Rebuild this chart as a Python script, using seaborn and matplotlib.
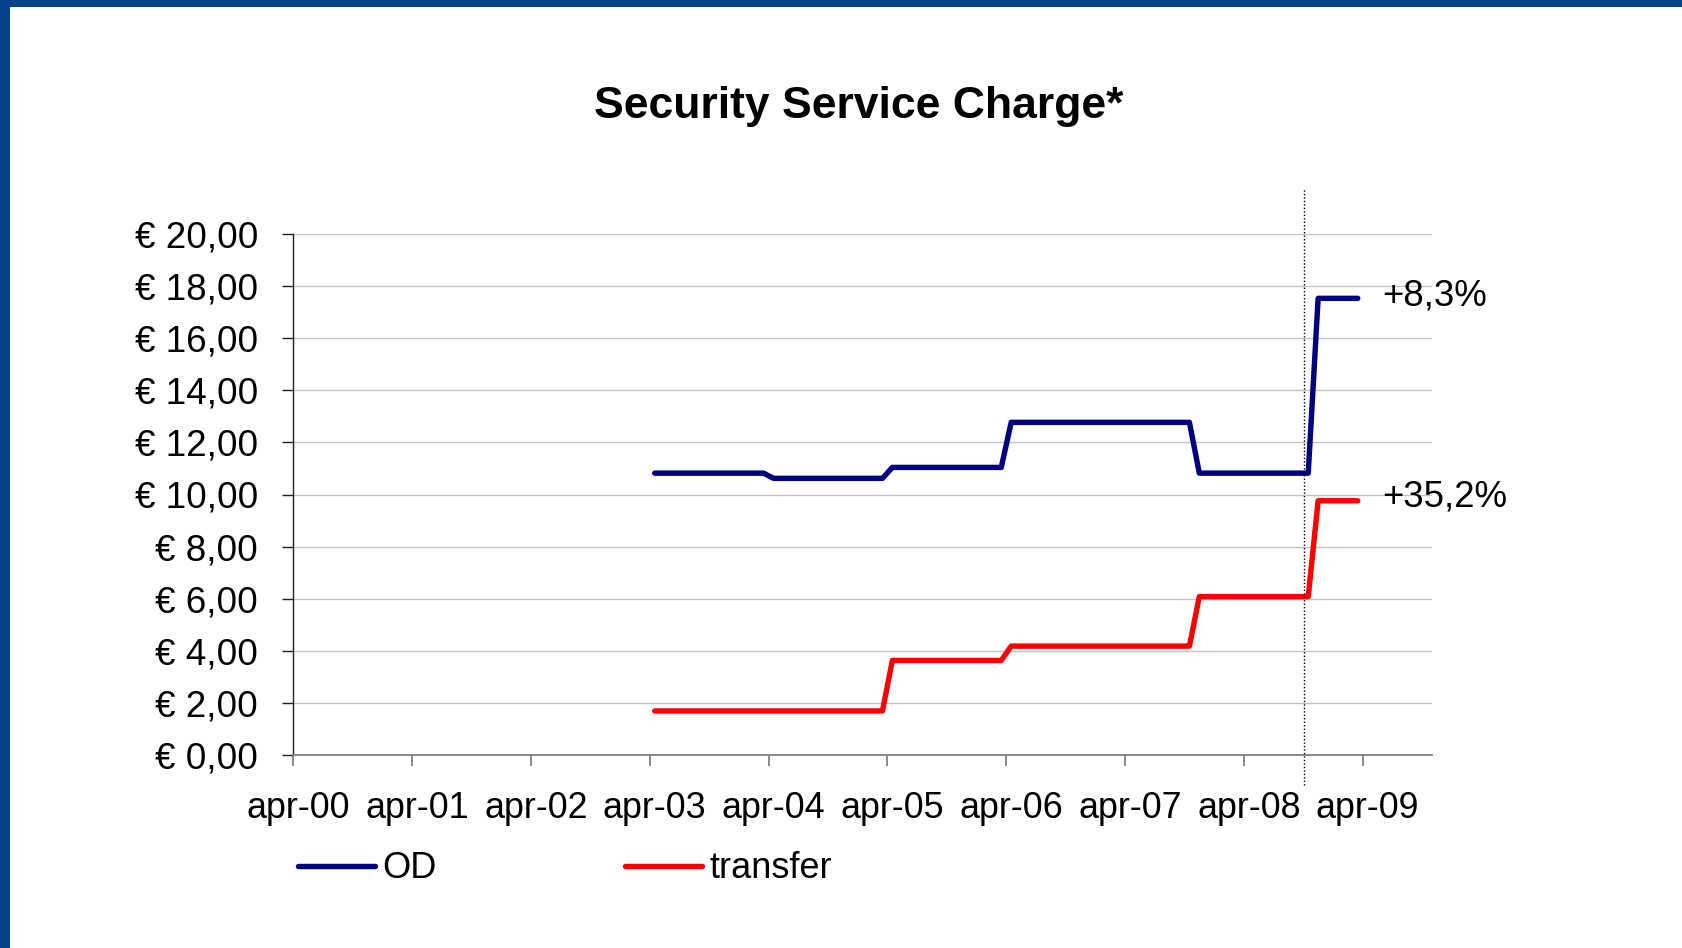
import numpy as np
import pandas as pd
import matplotlib
matplotlib.use("Agg")
import matplotlib.pyplot as plt
from matplotlib.patches import Rectangle
from matplotlib.ticker import FuncFormatter, FixedLocator
import seaborn as sns

# ---------------- data ----------------
start_month = "2000-04"
od_months = ["2003-04", "2004-03", "2004-04", "2005-03", "2005-04", "2006-03",
             "2006-04", "2007-10", "2007-11", "2008-10", "2008-11", "2009-03"]
od_values = [10.82, 10.82, 10.62, 10.62, 11.04, 11.04,
             12.77, 12.77, 10.82, 10.82, 17.53, 17.53]
tr_months = ["2003-04", "2005-03", "2005-04", "2006-03", "2006-04",
             "2007-10", "2007-11", "2008-10", "2008-11", "2009-03"]
tr_values = [1.69, 1.69, 3.63, 3.63, 4.18, 4.18, 6.08, 6.08, 9.76, 9.76]
x_tick_labels = ["apr-00", "apr-01", "apr-02", "apr-03", "apr-04",
                 "apr-05", "apr-06", "apr-07", "apr-08", "apr-09"]
series_names = ["OD", "transfer"]
annotations = ["+8,3%", "+35,2%"]
n_months = 115          # apr-00 .. oct-09 on the category axis
marker_month = 101.55   # dotted vertical line position (months from apr-00)


def month_index(m):
    return (pd.Period(m, "M") - pd.Period(start_month, "M")).n


df = pd.concat([
    pd.DataFrame({"month": [month_index(m) for m in od_months],
                  "value": od_values, "series": series_names[0]}),
    pd.DataFrame({"month": [month_index(m) for m in tr_months],
                  "value": tr_values, "series": series_names[1]}),
], ignore_index=True)

# ---------------- style ----------------
sns.set_theme(style="white")
plt.rcParams["font.family"] = ["Liberation Sans", "DejaVu Sans"]
plt.rcParams["text.color"] = "black"
plt.rcParams["axes.labelcolor"] = "black"
plt.rcParams["xtick.color"] = "black"
plt.rcParams["ytick.color"] = "black"

W, H = 1682, 948
fig = plt.figure(figsize=(W / 100, H / 100), dpi=100)
fig.patch.set_facecolor("white")

# slide frame (blue bars top and left)
frame_col = "#04438B"
fig.patches.append(Rectangle((0, 1 - 7 / H), 1, 7 / H, transform=fig.transFigure,
                             facecolor=frame_col, edgecolor="none", zorder=0))
fig.patches.append(Rectangle((0, 0), 10 / W, 1, transform=fig.transFigure,
                             facecolor=frame_col, edgecolor="none", zorder=0))

left, right, bottom, top = 293.3 / W, 1432 / W, 1 - 755 / H, 1 - 234 / H
ax = fig.add_axes([left, bottom, right - left, top - bottom])
ax.set_facecolor("white")

palette = {"OD": "#000080", "transfer": "#FF0000"}
sns.lineplot(data=df, x="month", y="value", hue="series", palette=palette,
             linewidth=3.9, legend=False, ax=ax, estimator=None,
             solid_capstyle="round")

ax.set_xlim(-0.5, n_months - 0.5)
ax.set_ylim(0, 20)

# y axis
ax.set_yticks(np.arange(0, 21, 2))
ax.yaxis.set_major_formatter(FuncFormatter(lambda v, p: "€ " + f"{v:.2f}".replace(".", ",")))
ax.grid(axis="y", color="#C4C4C4", linewidth=1.0)
ax.grid(axis="x", visible=False)
ax.tick_params(axis="y", which="major", direction="out", length=8, width=1,
               color="#202020", pad=17.5, labelsize=26.6, labelcolor="black", left=True)

# x axis: ticks at category boundaries, labels at category centres
ax.xaxis.set_major_locator(FixedLocator(np.arange(0, 120, 12) - 0.5))
ax.xaxis.set_minor_locator(FixedLocator(np.arange(0, 120, 12)))
ax.set_xticklabels([""] * 10)
ax.set_xticklabels(x_tick_labels, minor=True)
ax.tick_params(axis="x", which="major", direction="out", length=8, width=1.3,
               color="#808080", bottom=True)
ax.tick_params(axis="x", which="minor", length=0, pad=26, labelsize=25.8,
               labelcolor="black", bottom=True)
ax.set_xlabel("")
ax.set_ylabel("")

for s in ["top", "right"]:
    ax.spines[s].set_visible(False)
ax.spines["left"].set_color("#202020")
ax.spines["left"].set_linewidth(1.0)
ax.spines["bottom"].set_color("#808080")
ax.spines["bottom"].set_linewidth(1.3)
ax.spines["bottom"].set_zorder(3)

# dotted vertical marker line
ax.plot([marker_month, marker_month], [-1.15, 21.77], color="black",
        linestyle=(0, (1, 1.5)), linewidth=1.0, clip_on=False, zorder=4)

# end annotations
ax.annotate(annotations[0], xy=(month_index(od_months[-1]), od_values[-1]),
            xytext=(18, 1.5), textcoords="offset points", ha="left", va="center",
            fontsize=26.4, color="black")
ax.annotate(annotations[1], xy=(month_index(tr_months[-1]), tr_values[-1]),
            xytext=(18, 2.5), textcoords="offset points", ha="left", va="center",
            fontsize=26.4, color="black")

# title
fig.text(859 / W, 1 - 118 / H, "Security Service Charge*", ha="center", va="baseline",
         fontsize=32, fontweight="bold", color="black")

# legend
lines = ax.get_lines()[:2]
leg = fig.legend(handles=lines, labels=series_names, loc="center left",
                 bbox_to_anchor=(298 / W, 1 - 869 / H), ncol=2, frameon=False,
                 fontsize=26, handlelength=2.13, handletextpad=0.21,
                 columnspacing=5.2, borderpad=0, borderaxespad=0,
                 labelcolor="black")

fig.savefig("out.png", dpi=100, facecolor="white")
